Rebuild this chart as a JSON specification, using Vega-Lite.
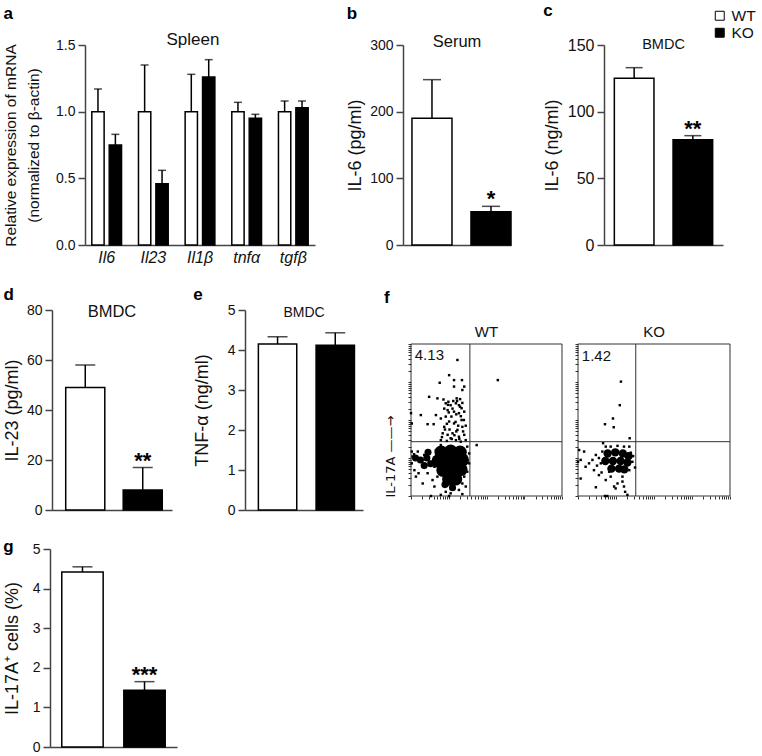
{
  "$schema": "https://vega.github.io/schema/vega-lite/v6.json",
  "padding": {"left": 2, "top": 2, "right": 2, "bottom": 2},
  "background": "white",
  "config": {
    "font": "Liberation Sans",
    "view": {"stroke": null},
    "axis": {"domainColor": "#444", "tickColor": "#444", "domainWidth": 1.5, "tickWidth": 1.5, "labelColor": "#111", "titleColor": "#111", "grid": false, "labelFontSize": 14, "titleFontSize": 18, "titleFontWeight": "normal", "tickSize": 7, "labelPadding": 3, "titlePadding": 5, "labelOverlap": false, "labelFlush": false},
    "title": {"fontSize": 17, "fontWeight": "bold", "anchor": "start", "frame": "bounds", "color": "black"},
    "legend": {"padding": 0}
  },
  "resolve": {"scale": {"fill": "independent"}, "legend": {"fill": "independent"}},
  "spacing": 21,
  "vconcat": [
    {
      "spacing": 0,
      "resolve": {"scale": {"fill": "independent"}, "legend": {"fill": "independent"}},
      "hconcat": [
        {"width": 1, "height": 1, "data": {"values": []}, "mark": "point"},
        {
          "spacing": 31,
          "resolve": {"scale": {"fill": "independent"}, "legend": {"fill": "independent"}},
          "hconcat": [
            {
              "width": 230, "height": 200,
              "title": {"text": "a", "offset": 8},
              "layer": [
                {"data": {"values": [
                  {"gene": "Il6", "group": "WT", "mean": 1.0, "hi": 1.17},
                  {"gene": "Il6", "group": "KO", "mean": 0.75, "hi": 0.83},
                  {"gene": "Il23", "group": "WT", "mean": 1.0, "hi": 1.35},
                  {"gene": "Il23", "group": "KO", "mean": 0.46, "hi": 0.56},
                  {"gene": "Il1β", "group": "WT", "mean": 1.0, "hi": 1.28},
                  {"gene": "Il1β", "group": "KO", "mean": 1.26, "hi": 1.39},
                  {"gene": "tnfα", "group": "WT", "mean": 1.0, "hi": 1.07},
                  {"gene": "tnfα", "group": "KO", "mean": 0.95, "hi": 0.98},
                  {"gene": "tgfβ", "group": "WT", "mean": 1.0, "hi": 1.08},
                  {"gene": "tgfβ", "group": "KO", "mean": 1.03, "hi": 1.08}
                ]},
                 "encoding": {
                   "x": {"field": "gene", "type": "nominal", "sort": ["Il6", "Il23", "Il1β", "tnfα", "tgfβ"], "scale": {"paddingInner": 0.363, "paddingOuter": 0.146}, "axis": {"title": null, "ticks": false, "labelAngle": 0, "labelFontStyle": "italic", "labelFontSize": 16, "labelPadding": 4}},
                   "xOffset": {"field": "group", "type": "nominal", "sort": ["WT", "KO"], "scale": {"paddingInner": 0.293, "paddingOuter": 0}}
                 },
                 "layer": [
                   {"mark": {"type": "bar", "stroke": "black", "strokeWidth": 1.5},
                    "encoding": {
                      "y": {"field": "mean", "type": "quantitative", "scale": {"domain": [0, 1.5], "nice": false}, "axis": {"values": [0, 0.5, 1, 1.5], "tickCount": 10, "format": ".1f", "labelOverlap": false, "title": ["Relative expression of mRNA", "(normalized to β-actin)"], "titleLineHeight": 23, "titleFontSize": 15.5, "titlePadding": 14}},
                      "fill": {"field": "group", "type": "nominal", "scale": {"domain": ["WT", "KO"], "range": ["white", "black"]}, "legend": null}
                    }},
                   {"mark": {"type": "rule", "color": "black", "strokeWidth": 1.5},
                    "encoding": {"y": {"field": "mean", "type": "quantitative"}, "y2": {"field": "hi"}}},
                   {"mark": {"type": "tick", "color": "black", "thickness": 1.5, "size": 8},
                    "encoding": {"y": {"field": "hi", "type": "quantitative"}}}
                 ]},
                {"data": {"values": [{"label": "Spleen"}]},
                 "mark": {"type": "text", "fontSize": 17, "baseline": "alphabetic", "dx": -7, "color": "#111"},
                 "encoding": {"y": {"datum": 1.5}, "text": {"field": "label"}}}
              ]
            },
            {
              "width": 108, "height": 200,
              "title": {"text": "b", "offset": 11},
              "layer": [
                {"data": {"values": [
                  {"group": "WT", "mean": 190, "hi": 248, "sig": ""},
                  {"group": "KO", "mean": 50, "hi": 58, "sig": "*"}
                ]},
                 "encoding": {"x": {"field": "group", "type": "nominal", "sort": ["WT", "KO"], "scale": {"paddingInner": 0.322, "paddingOuter": 0.076, "align": 1}, "axis": {"title": null, "labels": false, "ticks": false}}},
                 "layer": [
                   {"mark": {"type": "bar", "stroke": "black", "strokeWidth": 1.5},
                    "encoding": {
                      "y": {"field": "mean", "type": "quantitative", "scale": {"domain": [0, 300], "nice": false}, "axis": {"values": [0, 100, 200, 300], "tickCount": 10, "format": "d", "labelOverlap": false, "title": "IL-6 (pg/ml)", "titlePadding": 5}},
                      "fill": {"field": "group", "type": "nominal", "scale": {"domain": ["WT", "KO"], "range": ["white", "black"]}, "legend": null}
                    }},
                   {"mark": {"type": "rule", "color": "black", "strokeWidth": 1.5},
                    "encoding": {"y": {"field": "mean", "type": "quantitative"}, "y2": {"field": "hi"}}},
                   {"mark": {"type": "tick", "color": "black", "thickness": 1.5, "size": 18},
                    "encoding": {"y": {"field": "hi", "type": "quantitative"}}},
                   {"mark": {"type": "text", "fontSize": 22, "fontWeight": "bold", "baseline": "alphabetic", "dy": 0},
                    "encoding": {"y": {"field": "hi", "type": "quantitative"}, "text": {"field": "sig"}}}
                 ]},
                {"data": {"values": [{"label": "Serum"}]},
                 "mark": {"type": "text", "fontSize": 16.5, "baseline": "alphabetic", "dy": 2, "color": "#111"},
                 "encoding": {"y": {"datum": 300}, "text": {"field": "label"}}}
              ]
            },
            {
              "width": 119, "height": 200,
              "title": {"text": "c", "offset": -12},
              "layer": [
                {"data": {"values": [
                  {"group": "WT", "mean": 125, "hi": 133, "sig": ""},
                  {"group": "KO", "mean": 79, "hi": 82, "sig": "**"}
                ]},
                 "encoding": {"x": {"field": "group", "type": "nominal", "sort": ["WT", "KO"], "scale": {"paddingInner": 0.325, "paddingOuter": 0.176}, "axis": {"title": null, "labels": false, "ticks": false}}},
                 "layer": [
                   {"mark": {"type": "bar", "stroke": "black", "strokeWidth": 1.5},
                    "encoding": {
                      "y": {"field": "mean", "type": "quantitative", "scale": {"domain": [0, 150], "nice": false}, "axis": {"values": [0, 50, 100, 150], "tickCount": 10, "format": "d", "labelOverlap": false, "labelFontSize": 16, "title": "IL-6 (ng/ml)", "titlePadding": 6}},
                      "fill": {"field": "group", "type": "nominal", "scale": {"domain": ["WT", "KO"], "range": ["white", "black"]}, "legend": {"orient": "none", "legendX": 108, "legendY": -37, "title": null, "symbolType": "square", "symbolSize": 80, "symbolStrokeColor": "black", "symbolStrokeWidth": 1, "labelFontSize": 15.5, "labelOffset": 4, "rowPadding": -6, "labelColor": "#111"}}
                    }},
                   {"mark": {"type": "rule", "color": "black", "strokeWidth": 1.5},
                    "encoding": {"y": {"field": "mean", "type": "quantitative"}, "y2": {"field": "hi"}}},
                   {"mark": {"type": "tick", "color": "black", "thickness": 1.5, "size": 17},
                    "encoding": {"y": {"field": "hi", "type": "quantitative"}}},
                   {"mark": {"type": "text", "fontSize": 22, "fontWeight": "bold", "baseline": "alphabetic", "dy": 0},
                    "encoding": {"y": {"field": "hi", "type": "quantitative"}, "text": {"field": "sig"}}}
                 ]},
                {"data": {"values": [{"label": "BMDC"}]},
                 "mark": {"type": "text", "fontSize": 14.5, "baseline": "alphabetic", "dy": 4, "color": "#111"},
                 "encoding": {"y": {"datum": 150}, "text": {"field": "label"}}}
              ]
            }
          ]
        }
      ]
    },
    {
      "spacing": 0,
      "resolve": {"scale": {"fill": "independent"}, "legend": {"fill": "independent"}},
      "hconcat": [
        {"width": 1, "height": 1, "data": {"values": []}, "mark": "point"},
        {
          "spacing": 21,
          "resolve": {"scale": {"fill": "independent"}, "legend": {"fill": "independent"}},
          "hconcat": [
            {
              "width": 120, "height": 200,
              "title": {"text": "d", "offset": -1},
              "layer": [
                {"data": {"values": [
                  {"group": "WT", "mean": 49, "hi": 58, "sig": ""},
                  {"group": "KO", "mean": 8, "hi": 17, "sig": "**"}
                ]},
                 "encoding": {"x": {"field": "group", "type": "nominal", "sort": ["WT", "KO"], "scale": {"paddingInner": 0.32, "paddingOuter": 0.204, "align": 0.585}, "axis": {"title": null, "labels": false, "ticks": false}}},
                 "layer": [
                   {"mark": {"type": "bar", "stroke": "black", "strokeWidth": 1.5},
                    "encoding": {
                      "y": {"field": "mean", "type": "quantitative", "scale": {"domain": [0, 80], "nice": false}, "axis": {"values": [0, 20, 40, 60, 80], "tickCount": 10, "format": "d", "labelOverlap": false, "title": "IL-23 (pg/ml)", "titlePadding": 5}},
                      "fill": {"field": "group", "type": "nominal", "scale": {"domain": ["WT", "KO"], "range": ["white", "black"]}, "legend": null}
                    }},
                   {"mark": {"type": "rule", "color": "black", "strokeWidth": 1.5},
                    "encoding": {"y": {"field": "mean", "type": "quantitative"}, "y2": {"field": "hi"}}},
                   {"mark": {"type": "tick", "color": "black", "thickness": 1.5, "size": 20},
                    "encoding": {"y": {"field": "hi", "type": "quantitative"}}},
                   {"mark": {"type": "text", "fontSize": 22, "fontWeight": "bold", "baseline": "alphabetic", "dy": 0},
                    "encoding": {"y": {"field": "hi", "type": "quantitative"}, "text": {"field": "sig"}}}
                 ]},
                {"data": {"values": [{"label": "BMDC"}]},
                 "mark": {"type": "text", "fontSize": 16.5, "baseline": "alphabetic", "dy": 7, "color": "#111"},
                 "encoding": {"y": {"datum": 80}, "text": {"field": "label"}}}
              ]
            },
            {
              "width": 118, "height": 200,
              "title": {"text": "e", "offset": -1},
              "layer": [
                {"data": {"values": [
                  {"group": "WT", "mean": 4.15, "hi": 4.33},
                  {"group": "KO", "mean": 4.12, "hi": 4.43}
                ]},
                 "encoding": {"x": {"field": "group", "type": "nominal", "sort": ["WT", "KO"], "scale": {"paddingInner": 0.335, "paddingOuter": 0.19, "align": 0.61}, "axis": {"title": null, "labels": false, "ticks": false}}},
                 "layer": [
                   {"mark": {"type": "bar", "stroke": "black", "strokeWidth": 1.5},
                    "encoding": {
                      "y": {"field": "mean", "type": "quantitative", "scale": {"domain": [0, 5], "nice": false}, "axis": {"values": [0, 1, 2, 3, 4, 5], "tickCount": 10, "format": "d", "labelOverlap": false, "title": "TNF-α (ng/ml)", "titlePadding": 16}},
                      "fill": {"field": "group", "type": "nominal", "scale": {"domain": ["WT", "KO"], "range": ["white", "black"]}, "legend": null}
                    }},
                   {"mark": {"type": "rule", "color": "black", "strokeWidth": 1.5},
                    "encoding": {"y": {"field": "mean", "type": "quantitative"}, "y2": {"field": "hi"}}},
                   {"mark": {"type": "tick", "color": "black", "thickness": 1.5, "size": 20},
                    "encoding": {"y": {"field": "hi", "type": "quantitative"}}}
                 ]},
                {"data": {"values": [{"label": "BMDC"}]},
                 "mark": {"type": "text", "fontSize": 14, "baseline": "alphabetic", "dy": 7, "color": "#111"},
                 "encoding": {"y": {"datum": 5}, "text": {"field": "label"}}}
              ]
            },
            {
              "title": {"text": "f", "offset": 3.5},
              "spacing": 11,
              "hconcat": [
                {
                  "width": 151, "height": 200,
                  "layer": [
                    {"data": {"values": [{"gate": "frame"}]},
                     "mark": {"type": "rect", "filled": false, "color": "#333", "strokeWidth": 1},
                     "encoding": {"x": {"datum": 0, "type": "quantitative"}, "x2": {"datum": 4}, "y": {"datum": 0, "type": "quantitative"}, "y2": {"datum": 4}}},
                    {"data": {"values": [{"gate": "IL-17A"}]},
                     "mark": {"type": "rule", "color": "#333", "strokeWidth": 1},
                     "encoding": {"x": {"datum": 1.56, "type": "quantitative"}, "y": {"datum": 0, "type": "quantitative"}, "y2": {"datum": 4}}},
                    {"data": {"values": [{"gate": "IL-17A"}]},
                     "mark": {"type": "rule", "color": "#333", "strokeWidth": 1},
                     "encoding": {"y": {"datum": 1.43, "type": "quantitative"}, "x": {"datum": 0, "type": "quantitative"}, "x2": {"datum": 4}}},
                    {"data": {"values": [
                      {"x": 0.80, "y": 1.15}, {"x": 1.05, "y": 1.18}, {"x": 1.30, "y": 1.15}, {"x": 0.72, "y": 0.92}, {"x": 0.97, "y": 0.92}, {"x": 1.22, "y": 0.92}, {"x": 1.36, "y": 0.95}, {"x": 0.85, "y": 0.68}, {"x": 1.10, "y": 0.68}, {"x": 1.32, "y": 0.70}, {"x": 1.00, "y": 0.45}, {"x": 1.18, "y": 0.45}
                    ]},
                     "mark": {"type": "circle", "size": 180, "color": "black", "opacity": 1},
                     "encoding": {
                       "x": {"field": "x", "type": "quantitative", "scale": {"domain": [0, 4], "nice": false, "zero": false}, "axis": {"values": [0,0.301,0.477,0.602,0.699,0.778,0.845,0.903,0.954,1,1.301,1.477,1.602,1.699,1.778,1.845,1.903,1.954,2,2.301,2.477,2.602,2.699,2.778,2.845,2.903,2.954,3,3.301,3.477,3.602,3.699,3.778,3.845,3.903,3.954,4], "tickCount": 100, "labels": false, "domain": false, "tickSize": 3, "tickWidth": 1, "tickColor": "#333", "offset": -14, "title": null}},
                       "y": {"field": "y", "type": "quantitative", "scale": {"domain": [-0.368, 4.895], "nice": false, "zero": false}, "axis": {"values": [0,0.301,0.477,0.602,0.699,0.778,0.845,0.903,0.954,1,1.301,1.477,1.602,1.699,1.778,1.845,1.903,1.954,2,2.301,2.477,2.602,2.699,2.778,2.845,2.903,2.954,3,3.301,3.477,3.602,3.699,3.778,3.845,3.903,3.954,4], "tickCount": 100, "labels": false, "domain": false, "tickSize": 3, "tickWidth": 1, "tickColor": "#333", "title": "IL-17A ——→", "titleFont": "DejaVu Sans", "titleFontSize": 13, "titleX": -17, "titleY": 146, "titleAlign": "center", "titleBaseline": "alphabetic", "titleAngle": -90}}
                     }},
                    {"data": {"values": [
                      {"x": 0.25, "y": 0.95}, {"x": 0.42, "y": 1.0}, {"x": 0.35, "y": 0.8}, {"x": 0.52, "y": 0.85}, {"x": 0.12, "y": 1.0}, {"x": 0.45, "y": 1.15}, {"x": 1.1, "y": 0.22}, {"x": 0.9, "y": 0.3}
                    ]},
                     "mark": {"type": "circle", "size": 50, "color": "black", "opacity": 1},
                     "encoding": {
                       "x": {"field": "x", "type": "quantitative", "axis": {"values": [0,0.301,0.477,0.602,0.699,0.778,0.845,0.903,0.954,1,1.301,1.477,1.602,1.699,1.778,1.845,1.903,1.954,2,2.301,2.477,2.602,2.699,2.778,2.845,2.903,2.954,3,3.301,3.477,3.602,3.699,3.778,3.845,3.903,3.954,4], "tickCount": 100, "labels": false, "domain": false, "tickSize": 3, "tickWidth": 1, "tickColor": "#333", "offset": -14, "title": null}},
                       "y": {"field": "y", "type": "quantitative", "axis": {"values": [0,0.301,0.477,0.602,0.699,0.778,0.845,0.903,0.954,1,1.301,1.477,1.602,1.699,1.778,1.845,1.903,1.954,2,2.301,2.477,2.602,2.699,2.778,2.845,2.903,2.954,3,3.301,3.477,3.602,3.699,3.778,3.845,3.903,3.954,4], "tickCount": 100, "labels": false, "domain": false, "tickSize": 3, "tickWidth": 1, "tickColor": "#333", "title": "IL-17A ——→", "titleFont": "DejaVu Sans", "titleFontSize": 13, "titleX": -17, "titleY": 146, "titleAlign": "center", "titleBaseline": "alphabetic", "titleAngle": -90}}
                     }},
                    {"data": {"values": [
                      {"x": 1.23, "y": 3.58}, {"x": 1.01, "y": 3.18}, {"x": 0.76, "y": 2.98}, {"x": 1.14, "y": 3.05}, {"x": 1.35, "y": 3.05}, {"x": 0.48, "y": 2.61}, {"x": 0.70, "y": 2.57}, {"x": 0.86, "y": 2.54}, {"x": 1.36, "y": 2.79}, {"x": 1.41, "y": 2.88}, {"x": 1.14, "y": 2.88}, {"x": 2.30, "y": 3.05}, {"x": 0.26, "y": 2.13}, {"x": 0.0, "y": 2.18}, {"x": 0.02, "y": 1.91}, {"x": 0.44, "y": 1.89}, {"x": 0.60, "y": 1.89}, {"x": 0.66, "y": 2.13}, {"x": 0.79, "y": 2.04}, {"x": 0.92, "y": 2.44}, {"x": 1.05, "y": 2.39}, {"x": 1.19, "y": 2.44}, {"x": 1.27, "y": 2.39}, {"x": 1.34, "y": 2.31}, {"x": 0.97, "y": 2.26}, {"x": 1.14, "y": 2.22}, {"x": 1.27, "y": 2.18}, {"x": 1.41, "y": 2.22}, {"x": 0.88, "y": 1.82}, {"x": 1.01, "y": 1.96}, {"x": 1.14, "y": 1.91}, {"x": 1.23, "y": 1.74}, {"x": 1.36, "y": 1.82}, {"x": 0.84, "y": 1.65}, {"x": 0.97, "y": 1.61}, {"x": 1.10, "y": 1.65}, {"x": 1.27, "y": 1.56}, {"x": 1.41, "y": 1.61}, {"x": 0.79, "y": 1.47}, {"x": 1.05, "y": 1.52}, {"x": 1.19, "y": 1.47}, {"x": 1.32, "y": 1.43}, {"x": 1.45, "y": 1.47}, {"x": 1.74, "y": 1.34}, {"x": 0.92, "y": 2.09}, {"x": 1.34, "y": 2.0}, {"x": 1.07, "y": 2.09}, {"x": 1.21, "y": 2.57}, {"x": 0.99, "y": 2.48},
                      {"x": 0.82, "y": 1.55}, {"x": 0.9, "y": 1.75}, {"x": 0.95, "y": 1.9}, {"x": 1.0, "y": 2.2}, {"x": 1.1, "y": 2.3}, {"x": 1.2, "y": 2.15}, {"x": 1.3, "y": 2.35}, {"x": 1.25, "y": 1.85}, {"x": 1.38, "y": 1.7}, {"x": 1.15, "y": 1.6}, {"x": 1.02, "y": 1.75}, {"x": 0.88, "y": 2.3}, {"x": 1.22, "y": 2.5}, {"x": 1.3, "y": 2.55}, {"x": 1.12, "y": 2.5}, {"x": 1.36, "y": 2.45}, {"x": 1.4, "y": 2.0}, {"x": 1.08, "y": 1.5}, {"x": 1.28, "y": 1.5}, {"x": 0.95, "y": 1.45}, {"x": 1.18, "y": 1.95}, {"x": 1.32, "y": 2.1}, {"x": 0.98, "y": 2.4}, {"x": 1.45, "y": 1.85}, {"x": 1.2, "y": 1.7},
                      {"x": 0.02, "y": 1.17}, {"x": 0.04, "y": 1.04}, {"x": 0.02, "y": 0.86}, {"x": 0.09, "y": 0.68}, {"x": 0.18, "y": 1.17}, {"x": 0.26, "y": 0.95}, {"x": 0.35, "y": 0.77}, {"x": 0.13, "y": 0.51}, {"x": 0.44, "y": 0.60}, {"x": 0.35, "y": 1.08}, {"x": 0.48, "y": 0.90}, {"x": 0.31, "y": 0.33}, {"x": 0.62, "y": 0.25}, {"x": 0.57, "y": 0.42}, {"x": 0.70, "y": 0.51}, {"x": 0.53, "y": 0.0}, {"x": 0.79, "y": 0.03}, {"x": 0.92, "y": 0.11}, {"x": 1.05, "y": 0.07}, {"x": 1.14, "y": 0.20}, {"x": 1.27, "y": 0.16}, {"x": 1.36, "y": 0.33}, {"x": 0.97, "y": 0.29}, {"x": 1.19, "y": 0.33}, {"x": 1.05, "y": 0.46}, {"x": 0.88, "y": 0.42}, {"x": 1.32, "y": 0.46}, {"x": 1.49, "y": 0.64}, {"x": 1.54, "y": 0.86}, {"x": 1.54, "y": 1.12}, {"x": 1.49, "y": 1.30}, {"x": 0.79, "y": 1.34}, {"x": 0.66, "y": 1.21}, {"x": 1.41, "y": 0.51}, {"x": 0.75, "y": 0.68}, {"x": 0.62, "y": 0.77}, {"x": 1.45, "y": 0.25}, {"x": 1.01, "y": 0.0}, {"x": 1.36, "y": 0.05}, {"x": 0.08, "y": 1.1}, {"x": 0.2, "y": 0.6}
                    ]},
                     "mark": {"type": "square", "size": 6, "color": "black", "opacity": 1},
                     "encoding": {
                       "x": {"field": "x", "type": "quantitative", "axis": {"values": [0,0.301,0.477,0.602,0.699,0.778,0.845,0.903,0.954,1,1.301,1.477,1.602,1.699,1.778,1.845,1.903,1.954,2,2.301,2.477,2.602,2.699,2.778,2.845,2.903,2.954,3,3.301,3.477,3.602,3.699,3.778,3.845,3.903,3.954,4], "tickCount": 100, "labels": false, "domain": false, "tickSize": 3, "tickWidth": 1, "tickColor": "#333", "offset": -14, "title": null}},
                       "y": {"field": "y", "type": "quantitative", "axis": {"values": [0,0.301,0.477,0.602,0.699,0.778,0.845,0.903,0.954,1,1.301,1.477,1.602,1.699,1.778,1.845,1.903,1.954,2,2.301,2.477,2.602,2.699,2.778,2.845,2.903,2.954,3,3.301,3.477,3.602,3.699,3.778,3.845,3.903,3.954,4], "tickCount": 100, "labels": false, "domain": false, "tickSize": 3, "tickWidth": 1, "tickColor": "#333", "title": "IL-17A ——→", "titleFont": "DejaVu Sans", "titleFontSize": 13, "titleX": -17, "titleY": 146, "titleAlign": "center", "titleBaseline": "alphabetic", "titleAngle": -90}}
                     }},
                    {"data": {"values": [{"pct": "4.13"}]},
                     "mark": {"type": "text", "fontSize": 15, "align": "left", "baseline": "middle", "color": "#111"},
                     "encoding": {"x": {"datum": 0.1, "type": "quantitative"}, "y": {"datum": 3.71, "type": "quantitative"}, "text": {"field": "pct"}}},
                    {"data": {"values": [{"name": "WT"}]},
                     "mark": {"type": "text", "fontSize": 15, "baseline": "middle", "color": "#111"},
                     "encoding": {"x": {"datum": 2, "type": "quantitative"}, "y": {"datum": 4.32, "type": "quantitative"}, "text": {"field": "name"}}}
                  ]
                },
                {
                  "width": 152, "height": 200,
                  "layer": [
                    {"data": {"values": [{"gate": "frame"}]},
                     "mark": {"type": "rect", "filled": false, "color": "#333", "strokeWidth": 1},
                     "encoding": {"x": {"datum": 0, "type": "quantitative"}, "x2": {"datum": 4}, "y": {"datum": 0, "type": "quantitative"}, "y2": {"datum": 4}}},
                    {"data": {"values": [{"gate": "IL-17A"}]},
                     "mark": {"type": "rule", "color": "#333", "strokeWidth": 1},
                     "encoding": {"x": {"datum": 1.52, "type": "quantitative"}, "y": {"datum": 0, "type": "quantitative"}, "y2": {"datum": 4}}},
                    {"data": {"values": [{"gate": "IL-17A"}]},
                     "mark": {"type": "rule", "color": "#333", "strokeWidth": 1},
                     "encoding": {"y": {"datum": 1.43, "type": "quantitative"}, "x": {"datum": 0, "type": "quantitative"}, "x2": {"datum": 4}}},
                    {"data": {"values": [
                      {"x": 0.78, "y": 1.12}, {"x": 0.98, "y": 1.15}, {"x": 1.18, "y": 1.12}, {"x": 1.33, "y": 1.05}, {"x": 0.72, "y": 0.92}, {"x": 0.92, "y": 0.92}, {"x": 1.12, "y": 0.92}, {"x": 1.30, "y": 0.88}, {"x": 0.88, "y": 0.72}, {"x": 1.08, "y": 0.72}, {"x": 1.22, "y": 0.70}
                    ]},
                     "mark": {"type": "circle", "size": 70, "color": "black", "opacity": 1},
                     "encoding": {
                       "x": {"field": "x", "type": "quantitative", "scale": {"domain": [0, 4], "nice": false, "zero": false}, "axis": {"values": [0,0.301,0.477,0.602,0.699,0.778,0.845,0.903,0.954,1,1.301,1.477,1.602,1.699,1.778,1.845,1.903,1.954,2,2.301,2.477,2.602,2.699,2.778,2.845,2.903,2.954,3,3.301,3.477,3.602,3.699,3.778,3.845,3.903,3.954,4], "tickCount": 100, "labels": false, "domain": false, "tickSize": 3, "tickWidth": 1, "tickColor": "#333", "offset": -14, "title": null}},
                       "y": {"field": "y", "type": "quantitative", "scale": {"domain": [-0.368, 4.895], "nice": false, "zero": false}, "axis": {"values": [0,0.301,0.477,0.602,0.699,0.778,0.845,0.903,0.954,1,1.301,1.477,1.602,1.699,1.778,1.845,1.903,1.954,2,2.301,2.477,2.602,2.699,2.778,2.845,2.903,2.954,3,3.301,3.477,3.602,3.699,3.778,3.845,3.903,3.954,4], "tickCount": 100, "labels": false, "domain": false, "tickSize": 3, "tickWidth": 1, "tickColor": "#333", "title": null}}
                     }},
                    {"data": {"values": [
                      {"x": 1.13, "y": 3.01}, {"x": 1.10, "y": 2.39}, {"x": 0.92, "y": 2.04}, {"x": 0.71, "y": 1.89}, {"x": 0.94, "y": 1.81}, {"x": 1.36, "y": 1.52}, {"x": 0.66, "y": 1.39},
                      {"x": 0.03, "y": 1.21}, {"x": 0.07, "y": 0.95}, {"x": 0.0, "y": 0.90}, {"x": 0.16, "y": 1.17}, {"x": 0.29, "y": 0.86}, {"x": 0.38, "y": 0.95}, {"x": 0.47, "y": 1.08}, {"x": 0.42, "y": 0.68}, {"x": 0.55, "y": 0.55}, {"x": 0.47, "y": 0.23}, {"x": 0.73, "y": 0.42}, {"x": 0.82, "y": 0.64}, {"x": 0.95, "y": 0.25}, {"x": 0.99, "y": 0.20}, {"x": 1.21, "y": 0.25}, {"x": 1.24, "y": 0.11}, {"x": 1.30, "y": 0.03}, {"x": 0.71, "y": 0.0}, {"x": 0.77, "y": 0.0}, {"x": 1.17, "y": 0.51}, {"x": 1.35, "y": 0.68}, {"x": 1.43, "y": 0.90}, {"x": 1.39, "y": 1.14}, {"x": 0.64, "y": 1.17}, {"x": 0.60, "y": 0.86}, {"x": 0.86, "y": 1.30}, {"x": 1.04, "y": 1.32}, {"x": 1.21, "y": 1.30}, {"x": 1.35, "y": 1.30}, {"x": 0.73, "y": 1.30}, {"x": 0.20, "y": 0.77}, {"x": 0.07, "y": 0.46}, {"x": 1.04, "y": 0.33}, {"x": 0.86, "y": 0.51}, {"x": 1.17, "y": 0.38}, {"x": 0.55, "y": 1.0}, {"x": 0.5, "y": 0.8}, {"x": 1.45, "y": 1.05}, {"x": 1.5, "y": 0.75}, {"x": 0.62, "y": 0.62}
                    ]},
                     "mark": {"type": "square", "size": 6, "color": "black", "opacity": 1},
                     "encoding": {
                       "x": {"field": "x", "type": "quantitative", "axis": {"values": [0,0.301,0.477,0.602,0.699,0.778,0.845,0.903,0.954,1,1.301,1.477,1.602,1.699,1.778,1.845,1.903,1.954,2,2.301,2.477,2.602,2.699,2.778,2.845,2.903,2.954,3,3.301,3.477,3.602,3.699,3.778,3.845,3.903,3.954,4], "tickCount": 100, "labels": false, "domain": false, "tickSize": 3, "tickWidth": 1, "tickColor": "#333", "offset": -14, "title": null}},
                       "y": {"field": "y", "type": "quantitative", "axis": {"values": [0,0.301,0.477,0.602,0.699,0.778,0.845,0.903,0.954,1,1.301,1.477,1.602,1.699,1.778,1.845,1.903,1.954,2,2.301,2.477,2.602,2.699,2.778,2.845,2.903,2.954,3,3.301,3.477,3.602,3.699,3.778,3.845,3.903,3.954,4], "tickCount": 100, "labels": false, "domain": false, "tickSize": 3, "tickWidth": 1, "tickColor": "#333", "title": null}}
                     }},
                    {"data": {"values": [{"pct": "1.42"}]},
                     "mark": {"type": "text", "fontSize": 15, "align": "left", "baseline": "middle", "color": "#111"},
                     "encoding": {"x": {"datum": 0.1, "type": "quantitative"}, "y": {"datum": 3.68, "type": "quantitative"}, "text": {"field": "pct"}}},
                    {"data": {"values": [{"name": "KO"}]},
                     "mark": {"type": "text", "fontSize": 15, "baseline": "middle", "color": "#111"},
                     "encoding": {"x": {"datum": 2, "type": "quantitative"}, "y": {"datum": 4.32, "type": "quantitative"}, "text": {"field": "name"}}}
                  ]
                }
              ]
            }
          ]
        }
      ]
    },
    {
      "spacing": 0,
      "resolve": {"scale": {"fill": "independent"}, "legend": {"fill": "independent"}},
      "hconcat": [
        {"width": 1, "height": 1, "data": {"values": []}, "mark": "point"},
        {
          "width": 127, "height": 198,
          "title": {"text": "g", "offset": -14},
          "data": {"values": [
            {"group": "WT", "mean": 4.42, "hi": 4.55, "sig": ""},
            {"group": "KO", "mean": 1.43, "hi": 1.65, "sig": "***"}
          ]},
          "encoding": {"x": {"field": "group", "type": "nominal", "sort": ["WT", "KO"], "scale": {"paddingInner": 0.333, "paddingOuter": 0.19}, "axis": {"title": null, "labels": false, "ticks": false}}},
          "layer": [
            {"mark": {"type": "bar", "stroke": "black", "strokeWidth": 1.5},
             "encoding": {
               "y": {"field": "mean", "type": "quantitative", "scale": {"domain": [0, 5], "nice": false}, "axis": {"values": [0, 1, 2, 3, 4, 5], "tickCount": 10, "format": "d", "labelOverlap": false, "title": "IL-17A⁺ cells (%)", "titlePadding": 11}},
               "fill": {"field": "group", "type": "nominal", "scale": {"domain": ["WT", "KO"], "range": ["white", "black"]}, "legend": null}
             }},
            {"mark": {"type": "rule", "color": "black", "strokeWidth": 1.5},
             "encoding": {"y": {"field": "mean", "type": "quantitative"}, "y2": {"field": "hi"}}},
            {"mark": {"type": "tick", "color": "black", "thickness": 1.5, "size": 20},
             "encoding": {"y": {"field": "hi", "type": "quantitative"}}},
            {"mark": {"type": "text", "fontSize": 22, "fontWeight": "bold", "baseline": "alphabetic", "dy": 0},
             "encoding": {"y": {"field": "hi", "type": "quantitative"}, "text": {"field": "sig"}}}
          ]
        }
      ]
    }
  ]
}
